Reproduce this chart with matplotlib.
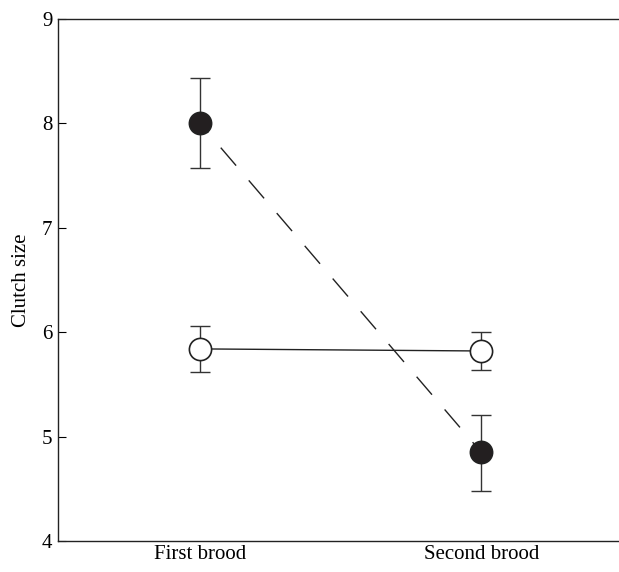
import numpy as np
from matplotlib import pyplot as plt

plt.rcParams['font.family'] = ['Liberation Serif', 'DejaVu Serif']

categories = ["First brood", "Second brood"]
filled_mean = [8.0, 4.85]
filled_lo = [7.57, 4.48]
filled_hi = [8.43, 5.21]
open_mean = [5.84, 5.82]
open_lo = [5.62, 5.64]
open_hi = [6.06, 6.0]

x = np.array([1, 2])

fig = plt.figure(figsize=(6.19, 5.72), dpi=100)
ax = fig.add_axes([0.0937, 0.0542, 0.9063, 0.9126])

def draw(mean, lo, hi, face, ls):
    mean = np.array(mean)
    err = [mean - np.array(lo), np.array(hi) - mean]
    ax.errorbar(x, mean, yerr=err, fmt="none", ecolor="#333333",
                elinewidth=1.0, capsize=7, capthick=1.0, zorder=2)
    ax.plot(x, mean, color="#222222", lw=1.0, ls=ls, zorder=1)
    ax.plot(x, mean, ls="none", marker="o", markersize=16,
            markerfacecolor=face, markeredgecolor="#222222",
            markeredgewidth=1.2, zorder=3)

draw(filled_mean, filled_lo, filled_hi, "#231f20", (8, (17, 14)))
draw(open_mean, open_lo, open_hi, "white", "-")

ax.set_xlim(0.495, 2.49)
ax.set_ylim(4, 9)
ax.set_xticks(x)
ax.set_xticklabels(categories)
ax.set_yticks([4, 5, 6, 7, 8, 9])
ax.tick_params(axis="y", direction="in", length=6, labelsize=15, pad=4)
ax.tick_params(axis="x", length=0, labelsize=15, pad=3)
ax.set_ylabel("Clutch size", fontsize=15, labelpad=8)
ax.spines["right"].set_visible(False)
for s in ["left", "top", "bottom"]:
    ax.spines[s].set_linewidth(1.0)
    ax.spines[s].set_color("#222222")

fig.savefig("out.png", dpi=100)
